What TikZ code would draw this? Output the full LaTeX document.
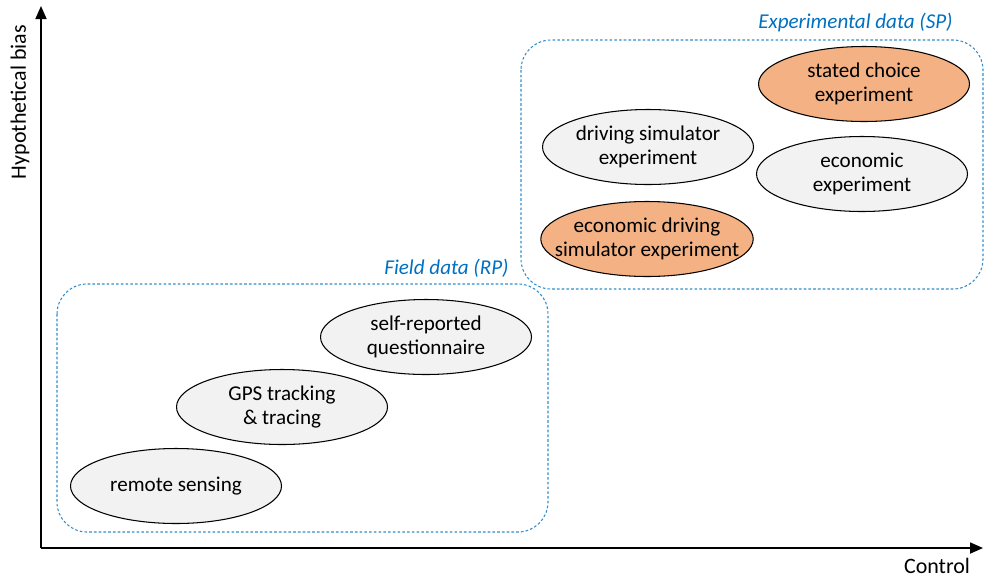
\documentclass[tikz,border=0pt]{standalone}
\usepackage{fontspec}
\setmainfont{Carlito}
\usetikzlibrary{shapes.geometric,arrows.meta,positioning}
\definecolor{ovalgrey}{HTML}{F2F2F2}
\definecolor{ovalorange}{HTML}{F4B183}
\definecolor{grpblue}{HTML}{0070C0}
\tikzset{
  oval/.style={ellipse,draw=black,line width=0.6pt,fill=ovalgrey,
               minimum width=42.2mm,minimum height=15mm,inner sep=0pt,
               align=center,font=\fontsize{12}{13.6}\selectfont},
  hot/.style={fill=ovalorange},
  grp/.style={draw=grpblue!80,dashed,dash pattern=on 1.5pt off 1.2pt,
              line width=0.6pt,rounded corners=6mm},
  grplabel/.style={text=grpblue,font=\fontsize{12}{14.4}\selectfont\itshape,
                   inner sep=0pt},
  axisarrow/.style={-{Triangle[length=2.6mm,width=2.2mm]},line width=1pt}
}

\begin{document}
\begin{tikzpicture}[x=0.2mm,y=-0.2mm]
  \useasboundingbox (0,0) rectangle (984,579);

  % Axes
  \coordinate (origin) at (41,548);
  \coordinate (ytop) at (41,6);
  \coordinate (xend) at (983,548);
  \draw[axisarrow] (origin) -- (ytop);
  \draw[axisarrow] (origin) -- (xend);
  \node[rotate=90,font=\fontsize{12.5}{14.4}\selectfont] (ylab) at (20,102) {Hypothetical bias};
  \node[font=\fontsize{12.5}{14.4}\selectfont,inner sep=1pt] (xlab) at (937,566) {Control};

  % Groups
  \draw[grp] (57,284) rectangle (548,532);
  \node[grplabel,anchor=base east] (fieldlab) at (509,274) {Field data (RP)};
  \draw[grp] (521,40) rectangle (983,289);
  \node[grplabel,anchor=base east] (explab) at (953,28) {Experimental data (SP)};

  % Field data
  \node[oval] (remote) at (176,486) {remote sensing};
  \node[oval] (gps) at (282,407) {GPS tracking\\\& tracing};
  \node[oval] (selfrep) at (426,337) {self-reported\\questionnaire};

  % Experimental data
  \node[oval] (drivesim) at (648,147) {driving simulator\\experiment};
  \node[oval,hot,inner xsep=-3.4mm] (econdrive) at (647,239) {economic driving\\simulator experiment};
  \node[oval,hot] (stated) at (864,84) {stated choice\\experiment};
  \node[oval] (econexp) at (862,174) {economic\\experiment};
\end{tikzpicture}
\end{document}
